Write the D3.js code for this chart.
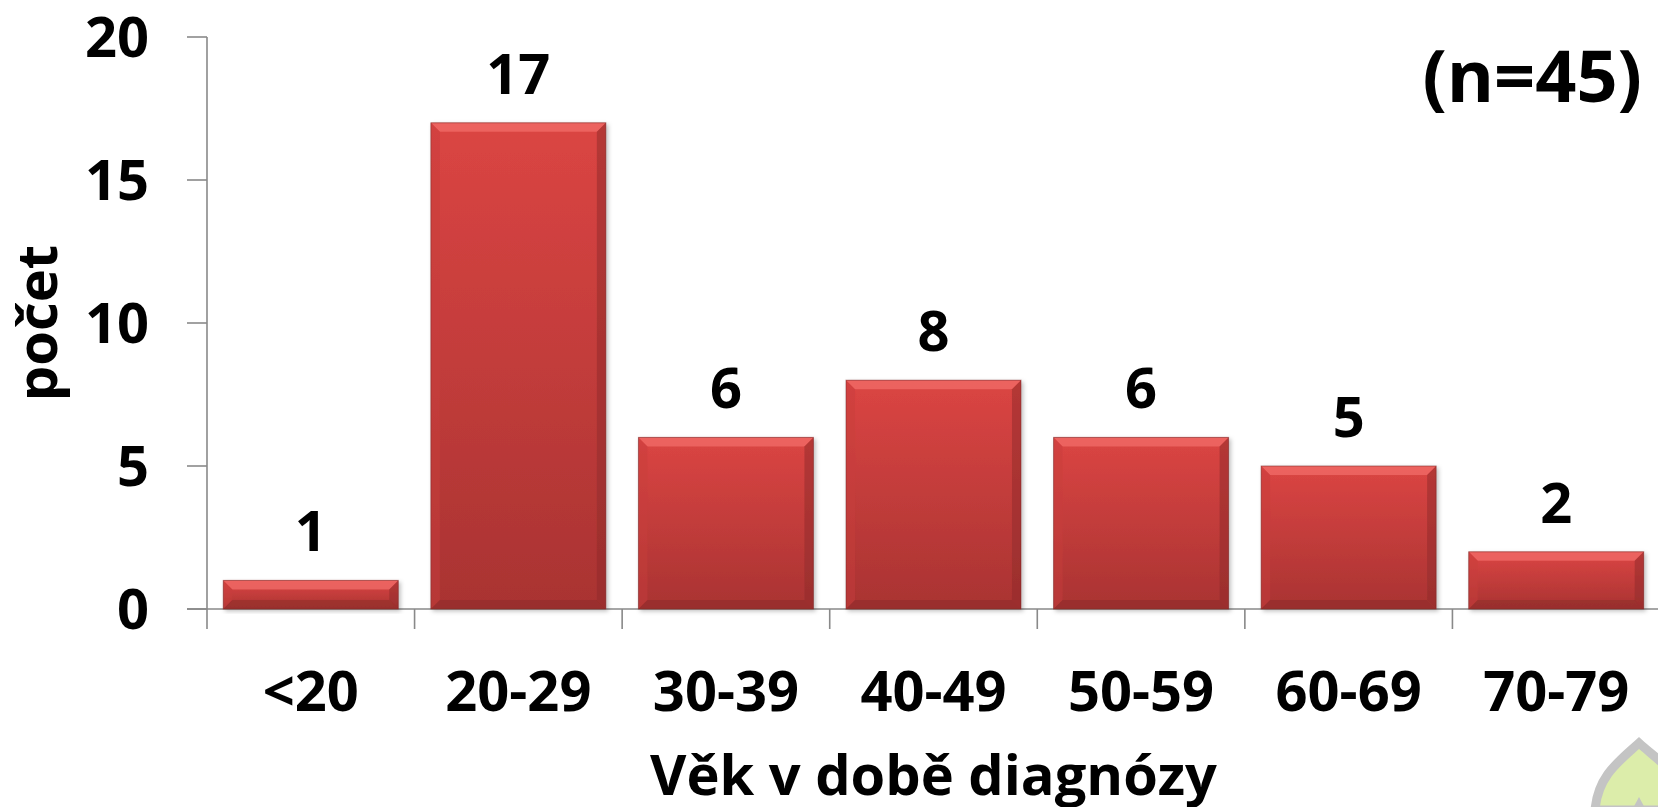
<!DOCTYPE html>
<html>
<head>
<meta charset="utf-8">
<style>
    body { margin: 0; background: #fff; }
    svg text { font-family: "Open Sans", "Noto Sans", sans-serif; font-weight: 700; fill: #000; }
    .axis line, .axis path { stroke: #898989; stroke-width: 1.6px; }
</style>
</head>
<body>
<svg id="chart" width="1658" height="807"></svg>
<script src="https://cdn.jsdelivr.net/npm/d3@7"></script>
<script>
// data
var categories = ["<20", "20-29", "30-39", "40-49", "50-59", "60-69", "70-79"];
var counts = [1, 17, 6, 8, 6, 5, 2];
var yTicks = [0, 5, 10, 15, 20];
var yTitle = "počet";
var xTitle = "Věk v době diagnózy";
var note = "(n=45)";

var svg = d3.select("#chart");
var plotLeft = 207, plotRight = 1660, plotTop = 37, plotBottom = 609;

var x = d3.scaleBand()
    .domain(categories)
    .range([plotLeft, plotRight])
    .paddingInner(0.157)
    .paddingOuter(0.0785);

var y = d3.scaleLinear()
    .domain([0, 20])
    .range([plotBottom, plotTop]);

var defs = svg.append("defs");
var grad = defs.append("linearGradient").attr("id", "barBody")
    .attr("x1", 0).attr("y1", 0).attr("x2", 0).attr("y2", 1);
grad.append("stop").attr("offset", "0%").attr("stop-color", "#db4543");
grad.append("stop").attr("offset", "100%").attr("stop-color", "#a93332");

var shadow = defs.append("filter").attr("id", "shadow")
    .attr("x", "-5%").attr("y", "-5%").attr("width", "115%").attr("height", "120%");
shadow.append("feDropShadow").attr("dx", 2).attr("dy", 2).attr("stdDeviation", 2)
    .attr("flood-color", "#000").attr("flood-opacity", 0.25);

// y axis
var yAxis = svg.append("g").attr("class", "axis");
yAxis.append("line")
    .attr("x1", plotLeft).attr("x2", plotLeft)
    .attr("y1", y(20)).attr("y2", plotBottom + 20);
yAxis.selectAll(".tick").data(yTicks).enter().append("line")
    .attr("x1", plotLeft - 20).attr("x2", plotLeft)
    .attr("y1", function (d) { return y(d); })
    .attr("y2", function (d) { return y(d); });

svg.append("g").selectAll("text").data(yTicks).enter().append("text")
    .attr("x", 149)
    .attr("y", function (d) { return y(d); })
    .attr("dy", "0.36em")
    .attr("text-anchor", "end")
    .style("font-size", "56px")
    .text(function (d) { return d; });

// x axis
var xAxis = svg.append("g").attr("class", "axis");
xAxis.append("line")
    .attr("x1", plotLeft - 20).attr("x2", plotRight)
    .attr("y1", plotBottom).attr("y2", plotBottom);
var bounds = categories.map(function (c) { return x(c) - x.step() * x.paddingInner() / 2; });
bounds.push(plotRight);
xAxis.selectAll(".tick").data(bounds.slice(1)).enter().append("line")
    .attr("x1", function (d) { return d; })
    .attr("x2", function (d) { return d; })
    .attr("y1", plotBottom).attr("y2", plotBottom + 20);

svg.append("g").selectAll("text").data(categories).enter().append("text")
    .attr("x", function (d) { return x(d) + x.bandwidth() / 2; })
    .attr("y", 711)
    .attr("text-anchor", "middle")
    .style("font-size", "56px")
    .text(function (d) { return d; });

// bars with a bevel look
var bev = 9;
var bars = svg.append("g").selectAll("g").data(counts).enter().append("g")
    .attr("filter", "url(#shadow)");

bars.each(function (d, i) {
    var g = d3.select(this);
    var x0 = x(categories[i]), x1 = x0 + x.bandwidth();
    var y0 = y(d), y1 = y(0);
    var b = Math.min(bev, (y1 - y0) / 2);
    g.append("rect")
        .attr("x", x0).attr("y", y0)
        .attr("width", x1 - x0).attr("height", y1 - y0)
        .attr("fill", "url(#barBody)");
    // top edge
    g.append("polygon")
        .attr("points", [[x0, y0], [x1, y0], [x1 - b, y0 + b], [x0 + b, y0 + b]].join(" "))
        .attr("fill", "#f06a66").attr("opacity", 0.8);
    // left edge
    g.append("polygon")
        .attr("points", [[x0, y0], [x0 + b, y0 + b], [x0 + b, y1 - b], [x0, y1]].join(" "))
        .attr("fill", "#c83e3c").attr("opacity", 0.45);
    // right edge
    g.append("polygon")
        .attr("points", [[x1, y0], [x1 - b, y0 + b], [x1 - b, y1 - b], [x1, y1]].join(" "))
        .attr("fill", "#8e2a2a").attr("opacity", 0.5);
    // bottom edge
    g.append("polygon")
        .attr("points", [[x0, y1], [x1, y1], [x1 - b, y1 - b], [x0 + b, y1 - b]].join(" "))
        .attr("fill", "#8c2b2a").attr("opacity", 0.55);
    g.append("rect")
        .attr("x", x0).attr("y", y0)
        .attr("width", x1 - x0).attr("height", y1 - y0)
        .attr("fill", "none").attr("stroke", "#7a2a2a").attr("stroke-opacity", 0.55).attr("stroke-width", 1);
});

// value labels
svg.append("g").selectAll("text").data(counts).enter().append("text")
    .attr("x", function (d, i) { return x(categories[i]) + x.bandwidth() / 2; })
    .attr("y", function (d) { return y(d) - 29; })
    .attr("text-anchor", "middle")
    .style("font-size", "56px")
    .text(function (d) { return d; });

// titles
svg.append("text")
    .attr("transform", "translate(57," + ((plotTop + plotBottom) / 2) + ") rotate(-90)")
    .attr("text-anchor", "middle")
    .style("font-size", "56px")
    .text(yTitle);

svg.append("text")
    .attr("x", (plotLeft + plotRight) / 2)
    .attr("y", 795)
    .attr("text-anchor", "middle")
    .style("font-size", "56px")
    .text(xTitle);

svg.append("text")
    .attr("x", 1642)
    .attr("y", 102)
    .attr("text-anchor", "end")
    .style("font-size", "72px")
    .text(note);

// leaf ornament in the corner
svg.append("path")
    .attr("d", "M1639,743 C1618,762 1598,776 1595,810 L1690,810 C1685,776 1660,762 1639,743 Z")
    .attr("fill", "#dcedaa").attr("stroke", "#c4c4c4").attr("stroke-width", 9);
svg.append("path")
    .attr("d", "M1632,810 L1639,797 L1646,810 Z")
    .attr("fill", "#c4c4c4");
</script>
</body>
</html>
